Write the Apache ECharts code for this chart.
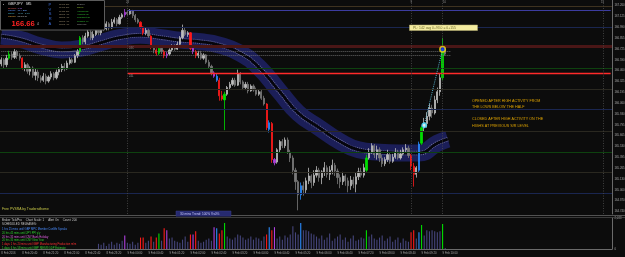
<!DOCTYPE html>
<html><head><meta charset="utf-8">
<script src="https://cdn.jsdelivr.net/npm/echarts@6/dist/echarts.min.js"></script>
<style>html,body{margin:0;padding:0;background:#0c0c0c;}#c{width:625px;height:257px;}</style>
</head><body><div id="c"></div><script>
// ---------- DATA ----------
const timeLabels = ['8 Feb 2016','8 Feb 20:40','8 Feb 21:20','8 Feb 22:00','8 Feb 22:40','8 Feb 23:20','9 Feb 00:00','9 Feb 00:40','9 Feb 01:20','9 Feb 02:00','9 Feb 02:40','9 Feb 03:20','9 Feb 04:00','9 Feb 04:40','9 Feb 05:20','9 Feb 06:00','9 Feb 06:40','9 Feb 07:20','9 Feb 08:00','9 Feb 08:40','9 Feb 09:20','9 Feb 10:00'];
const slotCount = 233; // bars that fit on the visible time axis (incl. empty right shift)
const priceTicks = [167.260,167.125,166.990,166.855,166.725,166.590,166.460,166.325,166.195,166.060,165.930,165.795,165.665,165.530,165.395,165.265,165.130,165.000,164.870,164.740];
const opens = [
166.54,166.59,166.53,166.61,166.66,166.62,166.69,166.64,166.61,166.49,
166.53,166.45,166.49,166.40,166.44,166.37,166.34,166.39,166.33,166.38,
166.42,166.37,166.44,166.47,166.51,166.48,166.55,166.59,166.56,166.64,
166.69,166.86,166.81,166.88,166.93,166.86,166.90,166.95,166.92,166.99,
166.97,167.03,166.98,167.05,167.08,167.03,167.11,167.14,167.17,167.15,
167.19,167.13,167.08,167.05,166.99,166.92,166.95,166.88,166.75,166.71,
166.67,166.73,166.69,166.64,166.66,166.71,166.76,166.72,166.78,166.86,
166.95,166.90,166.92,166.73,166.69,166.64,166.67,166.61,166.65,166.56,
166.51,166.43,166.39,166.34,166.15,166.10,166.17,166.25,166.29,166.34,
166.28,166.42,166.32,166.25,166.29,166.21,166.27,166.22,166.17,166.20,
166.12,166.05,165.74,165.81,165.37,165.34,165.49,165.59,165.54,165.61,
165.46,165.39,165.24,165.10,164.94,165.05,165.00,165.11,165.17,165.09,
165.18,165.24,165.15,165.22,165.27,165.19,165.24,165.30,165.23,165.15,
165.10,165.17,165.11,165.05,165.12,165.07,165.16,165.22,165.18,165.24,
165.39,165.46,165.54,165.43,165.49,165.39,165.32,165.37,165.43,165.35,
165.40,165.46,165.39,165.44,165.49,165.51,165.42,165.29,165.19,165.24,
165.57,165.76,165.81,165.90,166.00,165.94,166.10,166.20,166.37,166.72];
const closes = [
166.59,166.53,166.61,166.66,166.62,166.69,166.64,166.61,166.49,166.53,
166.45,166.49,166.40,166.44,166.37,166.34,166.39,166.33,166.38,166.42,
166.37,166.44,166.47,166.51,166.48,166.55,166.59,166.56,166.64,166.69,
166.86,166.81,166.88,166.93,166.86,166.90,166.95,166.92,166.99,166.97,
167.03,166.98,167.05,167.08,167.03,167.11,167.14,167.17,167.15,167.19,
167.13,167.08,167.05,166.99,166.92,166.95,166.88,166.75,166.71,166.67,
166.73,166.69,166.64,166.66,166.71,166.76,166.72,166.78,166.86,166.95,
166.90,166.92,166.73,166.69,166.64,166.67,166.61,166.65,166.56,166.51,
166.43,166.39,166.34,166.15,166.11,166.17,166.25,166.29,166.34,166.28,
166.42,166.32,166.25,166.29,166.21,166.27,166.22,166.17,166.20,166.12,
166.05,165.76,165.82,165.37,165.33,165.49,165.59,165.54,165.61,165.46,
165.39,165.24,165.10,164.94,165.05,165.00,165.11,165.17,165.09,165.18,
165.24,165.15,165.22,165.27,165.19,165.24,165.30,165.23,165.15,165.10,
165.17,165.11,165.05,165.12,165.07,165.16,165.22,165.18,165.27,165.39,
165.46,165.54,165.43,165.49,165.39,165.32,165.37,165.43,165.35,165.40,
165.46,165.39,165.44,165.49,165.51,165.42,165.29,165.19,165.27,165.56,
165.76,165.81,165.90,166.00,165.94,166.10,166.20,166.37,166.72,166.66];
const lows = [
166.51,166.49,166.50,166.59,166.59,166.60,166.60,166.58,166.47,166.45,
166.42,166.40,166.37,166.34,166.33,166.31,166.32,166.29,166.31,166.35,
166.34,166.35,166.40,166.44,166.45,166.47,166.53,166.54,166.55,166.61,
166.66,166.78,166.78,166.86,166.83,166.83,166.88,166.89,166.89,166.94,
166.95,166.95,166.97,167.03,167.00,167.02,167.09,167.11,167.13,167.14,
167.10,167.05,167.03,166.97,166.89,166.89,166.86,166.72,166.67,166.64,
166.65,166.66,166.61,166.61,166.64,166.69,166.70,166.71,166.76,166.84,
166.88,166.87,166.71,166.66,166.61,166.61,166.59,166.59,166.54,166.49,
166.40,166.37,166.32,166.09,166.09,165.73,166.15,166.22,166.27,166.26,
166.27,166.29,166.22,166.22,166.18,166.20,166.20,166.15,166.15,166.10,
166.03,165.73,165.70,165.33,165.30,165.32,165.46,165.51,165.51,165.44,
165.34,165.19,165.00,164.75,164.88,164.93,164.96,165.07,165.02,165.05,
165.15,165.10,165.07,165.17,165.15,165.12,165.19,165.17,165.07,165.02,
165.06,165.05,164.97,165.00,165.02,164.97,165.12,165.15,165.15,165.22,
165.37,165.44,165.39,165.37,165.34,165.28,165.29,165.34,165.32,165.33,
165.38,165.37,165.37,165.42,165.45,165.39,165.24,165.04,165.15,165.22,
165.55,165.71,165.76,165.85,165.88,165.92,166.06,166.15,166.34,166.64];
const highs = [
166.62,166.61,166.65,166.70,166.69,166.72,166.71,166.67,166.62,166.56,
166.55,166.51,166.51,166.48,166.47,166.40,166.43,166.42,166.40,166.45,
166.44,166.47,166.50,166.54,166.55,166.58,166.62,166.61,166.66,166.72,
166.88,166.89,166.92,166.97,166.95,166.94,166.99,166.98,167.02,167.03,
167.06,167.05,167.09,167.11,167.10,167.14,167.16,167.21,167.20,167.21,
167.20,167.15,167.10,167.06,167.00,166.98,166.97,166.89,166.77,166.73,
166.76,166.76,166.71,166.69,166.73,166.78,166.78,166.81,166.88,167.02,
166.98,166.94,166.93,166.76,166.71,166.70,166.70,166.67,166.66,166.59,
166.53,166.45,166.42,166.37,166.21,166.20,166.27,166.32,166.37,166.37,
166.47,166.44,166.34,166.32,166.32,166.29,166.29,166.25,166.22,166.22,
166.15,166.06,165.85,165.83,165.39,165.51,165.61,165.62,165.64,165.64,
165.49,165.42,165.27,165.12,165.09,165.10,165.15,165.27,165.19,165.24,
165.29,165.27,165.24,165.34,165.30,165.29,165.37,165.33,165.26,165.19,
165.22,165.19,165.15,165.17,165.16,165.21,165.27,165.27,165.32,165.43,
165.51,165.57,165.56,165.54,165.52,165.43,165.40,165.49,165.46,165.44,
165.51,165.49,165.49,165.52,165.56,165.54,165.44,165.33,165.29,165.59,
165.78,165.88,165.95,166.05,166.04,166.15,166.25,166.42,166.86,166.75];
// volume (shown from bar volStart onward)
const volStart = 37;
const volumes = [
350,280,420,210,350,490,280,420,350,560,
910,420,350,490,280,420,770,770,420,560,
840,490,770,1050,560,1400,1260,700,770,560,
490,420,630,840,490,980,980,1190,560,420,
490,630,700,560,1470,1400,1050,1260,1750,840,
700,630,770,980,910,770,630,700,840,630,
770,700,560,840,980,1470,1260,1470,700,840,
630,910,770,980,1540,1120,980,1750,1260,1260,
1190,1050,980,840,700,910,630,770,1050,560,
700,840,980,630,770,490,700,910,560,630,
770,700,1260,840,980,700,630,770,910,560,
700,840,490,630,770,420,700,560,490,1120,
1260,700,1120,1610,910,1260,1190,1260,1190,1120,
1190,1680,70];
const volMaxLabel = 2088;
// PVSRA classes (bar indices)
const climaxBull = [3,30,60,85,139,160,168];
const climaxBear = [8,53,54,57,59,62,72,74,83,84,101,103,156,157];
const risingBull = [82,102,114,159];
const risingBear = [47,63,73,81,104];
// moving-average band centre (bar index, price)
const bandIdx = [0,7,15,23,30,38,45,53,61,68,76,83,91,98,106,113,121,129,136,144,152,159,166,170];
const bandMid = [166.88,166.84,166.76,166.71,166.73,166.80,166.86,166.89,166.86,166.83,166.81,166.77,166.67,166.50,166.20,165.94,165.76,165.59,165.49,165.46,165.45,165.45,165.57,165.62];
// horizontal levels
const fullLevels = [167.25,166.99,166.76,166.49,166.23,165.98,165.72,165.46,165.21,164.96,164.70];
const fullLevelColors = ['#3e3220','#1a2650','#4a1616','#0e420f','#2a2820','#1a2650','#2a2820','#0e420f','#2a2820','#1a2650','#3e3220'];
const prevHigh = 167.19, prevLow = 166.42, levelStartBar = 48;
const bidAsk = [166.69, 166.65];
const currentPrice = 166.66;
const vLines = [48,156,168,229];
const vLineLabels = ['24','9','10','15'];
// trade markers
const entryBar = 161, entryPrice = 165.79, exitBar = 168, exitPrice = 166.72;

// ---------- BUILD ----------
const cats = Array.from({length: slotCount}, (_, i) => String(i));
const C = {n1:'#bdbdbd', n0:'#7a7a7a', g:'#00dc00', r:'#ff1a1a', b:'#2a8cff', m:'#b040e0', v:'#45457c'};
function cls(i){
  if (climaxBull.includes(i)) return C.g;
  if (climaxBear.includes(i)) return C.r;
  if (risingBull.includes(i)) return C.b;
  if (risingBear.includes(i)) return C.m;
  return null;
}
const candles = opens.map((o, i) => {
  const c = cls(i);
  const it = {value:[o, closes[i], lows[i], highs[i]]};
  if (c) it.itemStyle = {color:c, color0:c, borderColor:c, borderColor0:c};
  return it;
});
const vols = opens.map((o, i) => {
  const k = i - volStart;
  if (k < 0) return null;
  return {value: volumes[k], itemStyle:{color: cls(i) || C.v}};
});
const bandData = bandIdx.map((x, k) => [x, bandMid[k]]);

const markLines = [];
fullLevels.forEach((v, k) => markLines.push({yAxis: v, lineStyle:{color: fullLevelColors[k], width: k === 2 ? 3 : 1, type:'solid'}}));
markLines.push([{xAxis: levelStartBar, yAxis: prevHigh, lineStyle:{color:'#3c3ca0', width:1, type:'solid'}}, {xAxis: slotCount - 1, yAxis: prevHigh}]);
markLines.push([{xAxis: levelStartBar, yAxis: prevLow, lineStyle:{color:'#ff2a2a', width:1.3, type:'solid'}}, {xAxis: slotCount - 1, yAxis: prevLow}]);
bidAsk.forEach(v => markLines.push([{xAxis: 0, yAxis: v, lineStyle:{color:'#7a7a7a', width:0.8, type:[1,1]}}, {xAxis: opens.length + 1, yAxis: v}]));
vLines.forEach(x => markLines.push({xAxis: x, lineStyle:{color:'#4c4c4c', width:0.8, type:[1,1.5]}}));
markLines.push({yAxis: currentPrice, lineStyle:{opacity:0}, label:{show:true, position:'end', distance:0.5, formatter: currentPrice.toFixed(3), color:'#000', backgroundColor:'#dcdcdc', fontSize:2.8, padding:[0.8,1], fontFamily:'Liberation Sans'}});

const F = '"Liberation Sans", Arial, sans-serif';
function T(x, y, text, fill, size, extra){ return Object.assign({type:'text', silent:true, z:50, style:{x, y, text, fill, font: size + 'px ' + F, verticalAlign:'middle'}}, extra||{}); }
const graphics = [
  {type:'rect', z:40, shape:{x:0.5, y:0.5, width:104, height:29.5}, style:{fill:'#000', stroke:'#5c5c5c', lineWidth:1}},
  T(3, 3.8, '▪', '#ddd', 3),
  T(8, 3.8, 'GBPJPY   M5', '#e6e6e6', 3.8),
  T(8, 8, 'Spread:', '#e05a5a', 2.4), T(17.5, 8, '1.70', '#b070ff', 2.4),
  T(8, 10.7, 'Range:', '#5a8cff', 2.4), T(17.5, 10.7, '174  225', '#6aa0ff', 2.4),
  T(8, 13.4, 'Swap:', '#40b0c0', 2.4), T(17.5, 13.4, '-3.47  -1.66', '#60c0e0', 2.4),
  T(8, 16.1, 'Candle:', '#e0a040', 2.4), T(17.5, 16.1, '00:08:45', '#c0c0c0', 2.4),
  {type:'text', z:50, silent:true, style:{x:11.5, y:23.5, text:'166.66', fill:'#ff2222', font:'bold 7.6px ' + F, verticalAlign:'middle'}},
  T(37, 24.5, '4', '#c0c0c0', 3.2),
  T(48.5, 5, 'P', '#3a6ad6', 4), T(48.5, 9.6, 'V', '#3a6ad6', 4), T(48.7, 14.2, 'S', '#3a6ad6', 4), T(48.7, 18.8, 'R', '#3a6ad6', 4), T(48.5, 23.4, 'A', '#3a6ad6', 4),
  T(59, 4.2, '07:00 PM', '#a89878', 2.4), T(77, 4.2, 'Sydney', '#9a9a9a', 2.4),
  T(59, 7.6, '09:00 PM', '#a89878', 2.4), T(77, 7.6, 'Tokyo', '#9acd32', 2.4),
  T(59, 11.0, '09:30 PM', '#a89878', 2.4), T(77, 11.0, 'HongKong', '#32c032', 2.4),
  T(59, 14.4, '02:00 AM', '#a89878', 2.4), T(77, 14.4, 'Helsinki (8)', '#32c032', 2.4),
  T(59, 17.8, '03:00 AM', '#a89878', 2.4), T(77, 17.8, 'Frankfurt (3)', '#32c032', 2.4),
  T(59, 21.2, '03:00 AM', '#a89878', 2.4), T(77, 21.2, 'London (0)', '#32c032', 2.4),
  T(59, 24.6, '08:00 AM', '#a89878', 2.4), T(77, 24.6, 'NewYork', '#9a9a9a', 2.4),
  // vertical line labels
  T(126, 2.5, vLineLabels[0], '#909090', 2.8), T(410.5, 2.5, vLineLabels[1], '#909090', 2.8), T(443, 2.5, vLineLabels[2], '#909090', 2.8), T(601, 2.5, vLineLabels[3], '#909090', 2.8),
  // level tags
  T(129, 13.5, '24H', '#8080a0', 2.6), T(129, 48.5, '24C', '#909090', 2.6), T(129, 76, '24L', '#a0a0a0', 2.6),
  // P/L box
  {type:'rect', z:45, shape:{x:409.5, y:25, width:68, height:5.5}, style:{fill:'#f4eca0', stroke:'#b8b070', lineWidth:0.5}},
  T(413, 27.8, 'PL: 142 avg 0+93.0 = 0+155', '#6e6a28', 3.4),
  // annotations
  T(472, 100.8, 'OPENED AFTER HIGH ACTIVITY FROM', '#e0a400', 3.7),
  T(472, 107.2, 'THE LOWS BELOW THE HALF', '#e0a400', 3.7),
  T(472, 119.0, 'CLOSED AFTER HIGH ACTIVITY ON THE', '#e0a400', 3.7),
  T(472, 125.6, 'HIGHS AT PREVIOUS S/R LEVEL', '#e0a400', 3.7),
  // footer of main panel
  T(2, 209.5, 'Free PVSRA by Tradersdhome', '#c8c848', 3.4),
  {type:'rect', z:45, shape:{x:176, y:211, width:55, height:5.2}, style:{fill:'#262a70', stroke:'#3a3e88', lineWidth:0.5}},
  T(180, 213.7, '30 mins Trend: 100% Vs0%', '#c8c8ff', 3.2),
  // panel separator
  {type:'rect', z:40, shape:{x:0, y:215, width:625, height:0.8}, style:{fill:'#6a6a6a'}},
  {type:'rect', z:40, shape:{x:0, y:217, width:625, height:0.8}, style:{fill:'#4a4a4a'}},
  // volume panel texts
  T(2, 220.3, 'Broker Tick/Pro     Chart Scale: 1     Alert On     Count: 200', '#c8c8c8', 2.9),
  T(2, 224.2, 'SCHEDULED RELEASES:', '#c8c8c8', 2.9),
  T(2, 229.7, '1 hrs 25 mins until GBP MPC Member Cunliffe Speaks', '#4a8cff', 2.7),
  T(2, 233.3, '20 hrs 45 mins until JPY PPI y/y', '#30d030', 2.7),
  T(2, 237.0, '20 hrs 35 mins until CNY Bank Holiday', '#e060e0', 2.7),
  T(2, 240.7, '20 hrs 35 mins until CNY New Year', '#30d030', 2.7),
  T(2, 244.3, '1 days 1 hrs 20 mins until GBP Manufacturing Production m/m', '#ff3030', 2.7),
  T(2, 247.8, '1 days 6 hrs 58 mins until GBP NIESR GDP Estimate', '#30d030', 2.7)
];

const option = {
  backgroundColor:'#0c0c0c',
  animation:false,
  grid:[
    {left:0, top:0, width:612, height:214, containLabel:false, outerBoundsMode:'none'},
    {left:0, top:218, width:612, height:31, containLabel:false, outerBoundsMode:'none'}
  ],
  xAxis:[
    {gridIndex:0, type:'category', data:cats, boundaryGap:true, axisLine:{show:false}, axisTick:{show:false}, axisLabel:{show:false}, splitLine:{show:false}},
    {gridIndex:1, type:'category', data:cats, boundaryGap:true, axisLine:{show:true, lineStyle:{color:'#6a6a6a'}}, axisTick:{show:false},
     axisLabel:{interval:(i) => i % 8 === 0 && i / 8 < timeLabels.length, formatter:(v, i) => timeLabels[Math.round(Number(v) / 8)] || '', align:'left', color:'#a8a8a8', fontSize:2.8, margin:2.5, fontFamily:'Liberation Sans'}, splitLine:{show:false}}
  ],
  yAxis:[
    {gridIndex:0, type:'value', position:'right', min:164.705, max:167.321, splitLine:{show:false}, axisLine:{show:true, lineStyle:{color:'#6a6a6a'}}, axisTick:{show:false},
     axisLabel:{customValues:priceTicks, formatter:(v) => Number(v).toFixed(3), color:'#a8a8a8', fontSize:2.8, margin:2.5, fontFamily:'Liberation Sans'}},
    {gridIndex:1, type:'value', position:'right', min:0, max:volMaxLabel, splitLine:{show:false}, axisLine:{show:true, lineStyle:{color:'#6a6a6a'}}, axisTick:{show:false},
     axisLabel:{customValues:[0, volMaxLabel], color:'#a8a8a8', fontSize:2.8, margin:2.5, fontFamily:'Liberation Sans'}}
  ],
  series:[
    {type:'line', xAxisIndex:0, yAxisIndex:0, data:bandData, smooth:0.5, symbol:'none', silent:true, z:1, lineStyle:{width:17, color:'#1b1e58', cap:'butt'}},
    {type:'line', xAxisIndex:0, yAxisIndex:0, data:bandData, smooth:0.5, symbol:'none', silent:true, z:1, lineStyle:{width:4.6, color:'#6a6a98', type:[1,1]}},
    {type:'line', xAxisIndex:0, yAxisIndex:0, data:bandData, smooth:0.5, symbol:'none', silent:true, z:1, lineStyle:{width:2.8, color:'#05050c'}},
    {type:'candlestick', xAxisIndex:0, yAxisIndex:0, data:candles, barWidth:1.7, z:3,
     itemStyle:{color:C.n1, color0:C.n0, borderColor:C.n1, borderColor0:C.n0, borderWidth:0.8},
     markLine:{silent:true, symbol:'none', animation:false, label:{show:false}, data:markLines}},
    {type:'line', xAxisIndex:0, yAxisIndex:0, data:[[entryBar, entryPrice],[exitBar, exitPrice]], symbol:'none', z:5, lineStyle:{color:'#60c8e8', width:0.9, type:[1,1.2]}},
    {type:'scatter', xAxisIndex:0, yAxisIndex:0, z:6, data:[{value:[entryBar, entryPrice], symbolSize:4.5, itemStyle:{color:'#eaffff', borderColor:'#40d8ff', borderWidth:1.4}}, {value:[exitBar, exitPrice], symbolSize:5.5, itemStyle:{color:'#1030ff', borderColor:'#ffe000', borderWidth:1.5}}]},
    {type:'bar', xAxisIndex:1, yAxisIndex:1, data:vols, barWidth:1.1, z:2}
  ],
  graphic:graphics
};
const chart = echarts.init(document.getElementById('c'), null, {renderer:'canvas'});
chart.setOption(option);
</script></body></html>
